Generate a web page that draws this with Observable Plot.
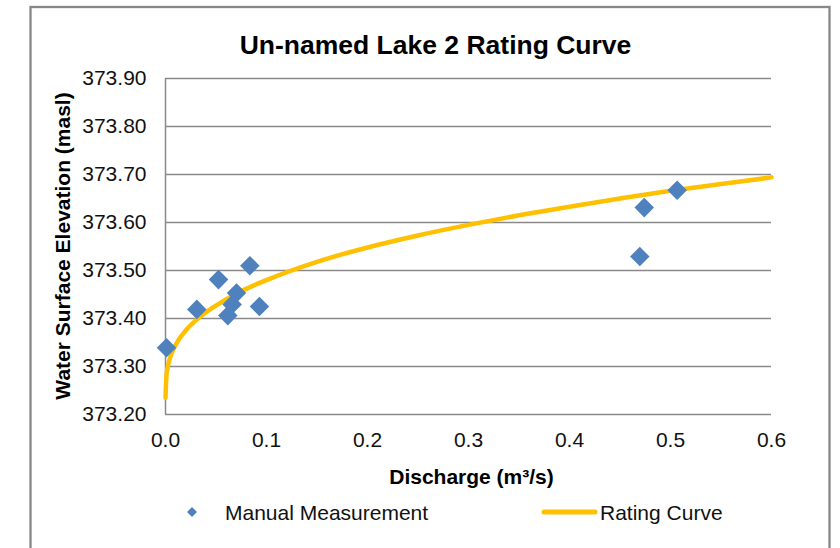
<!DOCTYPE html>
<html>
<head>
<meta charset="utf-8">
<script src="https://cdn.jsdelivr.net/npm/d3@7"></script>
<script src="https://cdn.jsdelivr.net/npm/@observablehq/plot@0.6"></script>
<style>
  html, body { margin: 0; padding: 0; background: #fff; }
  #chart { width: 840px; height: 548px; overflow: hidden; }
</style>
</head>
<body>
<div id="chart"></div>
<script>
const title = "Un-named Lake 2 Rating Curve";
const xLabel = "Discharge (m³/s)";
const yLabel = "Water Surface Elevation (masl)";
const seriesNames = ["Manual Measurement", "Rating Curve"];

// Manual measurements
const discharge = [0.001, 0.031, 0.0525, 0.0617, 0.066, 0.0703, 0.0835, 0.093, 0.4696, 0.474, 0.5066];
const elevation = [373.339, 373.419, 373.481, 373.406, 373.429, 373.453, 373.510, 373.425, 373.529, 373.631, 373.667];

// Rating curve
const curveQ = [0, 0.001, 0.002, 0.005, 0.01, 0.02, 0.03, 0.05, 0.075, 0.1, 0.15, 0.2, 0.25, 0.3, 0.35, 0.4, 0.45, 0.5, 0.55, 0.6];
const curveH = [373.235, 373.283, 373.297, 373.321, 373.345, 373.375, 373.396, 373.427, 373.457, 373.48, 373.518, 373.548, 373.573, 373.595, 373.615, 373.633, 373.65, 373.666, 373.68, 373.694];

const xTicks = [0, 0.1, 0.2, 0.3, 0.4, 0.5, 0.6];
const yTicks = [373.2, 373.3, 373.4, 373.5, 373.6, 373.7, 373.8, 373.9];

const measurements = discharge.map((q, i) => ({q, h: elevation[i]}));
const curve = curveQ.map((q, i) => ({q, h: curveH[i]}));

const blue = "#4F81BD";
const gold = "#FFC000";
const grid = "#8a8a8a";
const font = "'Liberation Sans', Arial, sans-serif";

const plot = Plot.plot({
  width: 840,
  height: 548,
  marginTop: 78,
  marginRight: 69,
  marginBottom: 134,
  marginLeft: 165,
  style: {fontFamily: font, fontSize: "21px", color: "#111", background: "#fff"},
  x: {domain: [0, 0.6]},
  y: {domain: [373.2, 373.9]},
  marks: [
    Plot.ruleY(yTicks, {stroke: grid, strokeWidth: 1.5}),
    Plot.ruleX([0], {stroke: grid, strokeWidth: 1.5}),
    Plot.axisX({ticks: xTicks, tickFormat: d => d.toFixed(1), tickSize: 0, tickPadding: 18, label: null, fontSize: 21}),
    Plot.axisY({ticks: yTicks, tickFormat: d => d.toFixed(2), tickSize: 0, tickPadding: 19, label: null, fontSize: 21}),
    Plot.line(curve, {x: "q", y: "h", stroke: gold, strokeWidth: 4.5, curve: "monotone-x"}),
    Plot.dot(measurements, {x: "q", y: "h", symbol: "diamond2", r: 8.8, fill: blue, stroke: "none"})
  ]
});

document.getElementById("chart").appendChild(plot);

const svg = d3.select(plot);
// outer chart frame
svg.append("rect")
  .attr("x", 30.5).attr("y", 7).attr("width", 799).attr("height", 620)
  .attr("fill", "none").attr("stroke", "#878787").attr("stroke-width", 2.3);

// title
svg.append("text")
  .attr("x", 435.5).attr("y", 53.5)
  .attr("text-anchor", "middle")
  .attr("font-family", font).attr("font-size", 26.5).attr("font-weight", "bold")
  .attr("fill", "#000")
  .text(title);

// x label
svg.append("text")
  .attr("x", 471.5).attr("y", 483.5)
  .attr("text-anchor", "middle")
  .attr("font-family", font).attr("font-size", 21).attr("font-weight", "bold")
  .attr("fill", "#000")
  .text(xLabel);

// y label
svg.append("text")
  .attr("transform", "translate(69.5,246) rotate(-90)")
  .attr("text-anchor", "middle")
  .attr("font-family", font).attr("font-size", 21).attr("font-weight", "bold")
  .attr("fill", "#000")
  .text(yLabel);

// legend
const legend = svg.append("g").attr("font-family", font).attr("font-size", 21).attr("fill", "#111").attr("text-anchor", "start");
legend.append("path")
  .attr("transform", "translate(192,512)")
  .attr("d", d3.symbol(d3.symbolDiamond2, 64)())
  .attr("fill", blue);
legend.append("text").attr("x", 225).attr("y", 520).attr("text-anchor", "start").text(seriesNames[0]);
legend.append("line")
  .attr("x1", 544).attr("x2", 595).attr("y1", 512).attr("y2", 512)
  .attr("stroke", gold).attr("stroke-width", 5).attr("stroke-linecap", "round");
legend.append("text").attr("x", 600).attr("y", 520).attr("text-anchor", "start").text(seriesNames[1]);
</script>
</body>
</html>
